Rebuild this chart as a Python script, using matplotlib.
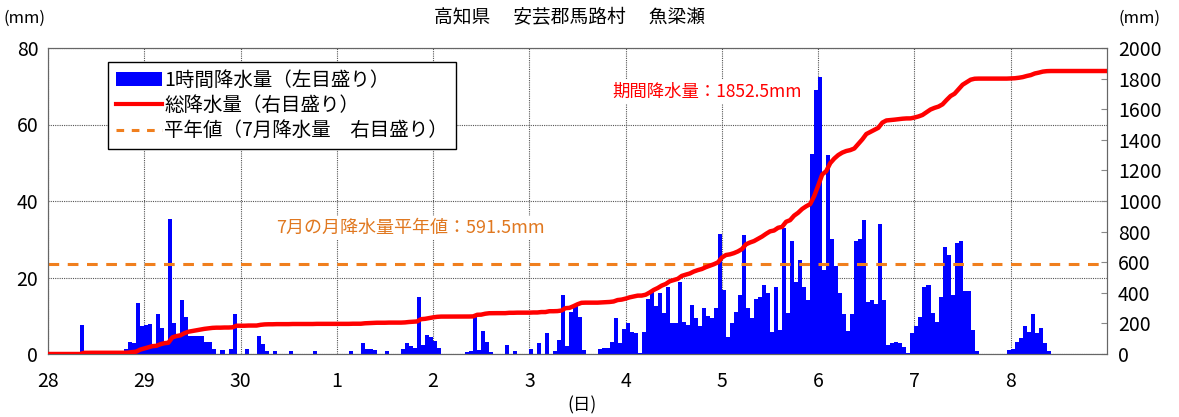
import numpy as np
import matplotlib.pyplot as plt
from matplotlib.patches import Patch
from matplotlib.lines import Line2D

plt.rcParams['font.family'] = ['Noto Sans CJK JP', 'DejaVu Sans']

# hourly rainfall (mm), one list per day, 24 values each
day_labels = ['28', '29', '30', '1', '2', '3', '4', '5', '6', '7', '8']
rain_28 = [0, 0, 0, 0, 0, 0, 0, 0, 7.5, 0.5, 0, 0, 0, 0, 0, 0, 0, 0, 0, 1.3, 3.2, 3.0, 13.3, 7.2]
rain_29 = [7.5, 7.8, 2.0, 10.4, 6.8, 3.0, 35.3, 8.2, 5.0, 14.0, 9.6, 4.7, 4.7, 4.7, 4.7, 3.2, 3.2, 1.3, 0, 1.0, 0, 1.3, 10.4, 0]
rain_30 = [0, 1.2, 0, 0, 4.8, 2.6, 0.9, 0, 0.9, 0, 0, 0, 0.9, 0, 0, 0, 0, 0, 0.9, 0, 0, 0, 0, 0]
rain_01 = [0, 0, 0, 0.9, 0, 0, 2.8, 1.3, 1.3, 1.0, 0, 0, 0.9, 0, 0, 0, 1.2, 2.8, 2.0, 1.6, 14.8, 2.3, 5.0, 4.5]
rain_02 = [3.5, 1.6, 0, 0, 0, 0, 0, 0, 0.5, 0.9, 10.4, 1.0, 6.0, 3.2, 0.5, 0, 0, 0, 2.3, 0, 0.9, 0, 0, 0]
rain_03 = [1.2, 0, 2.8, 0, 5.4, 0, 0.9, 3.7, 15.3, 2.0, 11.0, 12.5, 9.6, 1.0, 0, 0, 0, 1.3, 1.6, 1.6, 3.2, 9.3, 3.0, 6.5]
rain_04 = [8.2, 5.8, 5.4, 0.3, 5.8, 14.5, 16.7, 12.5, 15.9, 10.6, 17.6, 8.0, 8.0, 18.9, 8.4, 7.6, 12.8, 9.3, 7.2, 11.9, 10.0, 9.3, 11.9, 31.5]
rain_05 = [16.7, 4.5, 8.0, 11.1, 15.4, 31.0, 11.9, 9.3, 14.5, 14.9, 18.0, 16.0, 5.8, 17.6, 6.3, 33.0, 10.6, 29.5, 18.9, 24.6, 17.6, 14.1, 52.3, 69.0]
rain_06 = [72.4, 22.0, 52.0, 30.0, 23.0, 16.0, 10.5, 6.0, 10.5, 29.5, 30.0, 35.0, 13.7, 14.0, 13.0, 34.0, 14.0, 2.4, 2.8, 3.2, 3.0, 1.9, 0.2, 5.4]
rain_07 = [7.2, 9.8, 17.6, 18.0, 10.8, 8.4, 14.8, 28.0, 26.0, 15.4, 29.0, 29.5, 16.5, 16.5, 6.3, 0.9, 0, 0, 0, 0, 0, 0, 0, 1.0]
rain_08 = [1.3, 3.2, 4.3, 7.3, 5.8, 10.5, 5.6, 6.7, 3.0, 0.9, 0, 0, 0, 0, 0, 0, 0, 0, 0, 0, 0, 0, 0, 0]

normal_july = 591.5
period_total = 1852.5

hourly = np.array(rain_28 + rain_29 + rain_30 + rain_01 + rain_02 + rain_03
                  + rain_04 + rain_05 + rain_06 + rain_07 + rain_08)
total = np.concatenate([[0], np.cumsum(hourly)])
n = len(hourly)

fig = plt.figure(figsize=(11.79, 4.17), dpi=100)
ax = fig.add_axes([48 / 1179, 1 - 354 / 417, 1059 / 1179, 306 / 417])

ax.bar(np.arange(n), hourly, width=1.0, align='edge', color='#0000FF', linewidth=0, zorder=2)
ax.set_xlim(0, n)
ax.set_ylim(0, 80)
ax.set_yticks([0, 20, 40, 60, 80])
ax.set_xticks(np.arange(0, n, 24))
ax.set_xticklabels(day_labels)
ax.grid(True, color='#555555', linestyle=(0, (1, 1)), linewidth=0.8, zorder=1)
ax.set_axisbelow(True)
ax.tick_params(axis='both', length=0, labelsize=14)
ax.tick_params(axis='x', pad=12)
ax.tick_params(axis='y', pad=7)
for s in ax.spines.values():
    s.set_color('#666666')

ax2 = ax.twinx()
ax2.plot(np.arange(n + 1), total, color='#FF0000', lw=3.2, zorder=3)
ax2.axhline(normal_july, color='#F07F1E', ls=(0, (3.5, 2.8)), lw=2.2, zorder=2)
ax2.set_ylim(0, 2000)
ax2.set_yticks(range(0, 2001, 200))
ax2.tick_params(axis='y', direction='in', length=4, color='#888888', labelsize=14, pad=8)
for s in ax2.spines.values():
    s.set_color('#666666')

ax2.text(140.6, 1712, '期間降水量：1852.5mm', color='#FF0000', fontsize=12.5, va='center', ha='left',
         bbox=dict(facecolor='white', edgecolor='none', pad=2), zorder=4)
ax2.text(56.9, 823, '7月の月降水量平年値：591.5mm', color='#E07820', fontsize=13, va='center', ha='left',
         bbox=dict(facecolor='white', edgecolor='none', pad=2), zorder=4)

handles = [Patch(facecolor='#0000FF', edgecolor='none'),
           Line2D([], [], color='#FF0000', lw=3),
           Line2D([], [], color='#F07F1E', lw=2.2, ls=(0, (2.5, 2.5)))]
labels = ['1時間降水量（左目盛り）', '総降水量（右目盛り）', '平年値（7月降水量　右目盛り）']
leg = ax2.legend(handles, labels, loc='upper left', bbox_to_anchor=(108 / 1179, 1 - 62 / 417),
                 bbox_transform=fig.transFigure, fontsize=14, frameon=True, fancybox=False,
                 edgecolor='black', framealpha=1, handlelength=2.4, handletextpad=0.1,
                 labelspacing=0.22, borderpad=0.4, borderaxespad=0)
leg.get_frame().set_linewidth(1.0)
leg.set_zorder(5)

fig.text(570 / 1179, 1 - 18 / 417, '高知県　 安芸郡馬路村　 魚梁瀬', ha='center', va='center', fontsize=13.5)
fig.text(24 / 1179, 1 - 18 / 417, '(mm)', ha='center', va='center', fontsize=12)
fig.text(1140 / 1179, 1 - 18 / 417, '(mm)', ha='center', va='center', fontsize=12)
fig.text(582 / 1179, 1 - 405 / 417, '(日)', ha='center', va='center', fontsize=12.5)

fig.savefig('out.png', dpi=100)
